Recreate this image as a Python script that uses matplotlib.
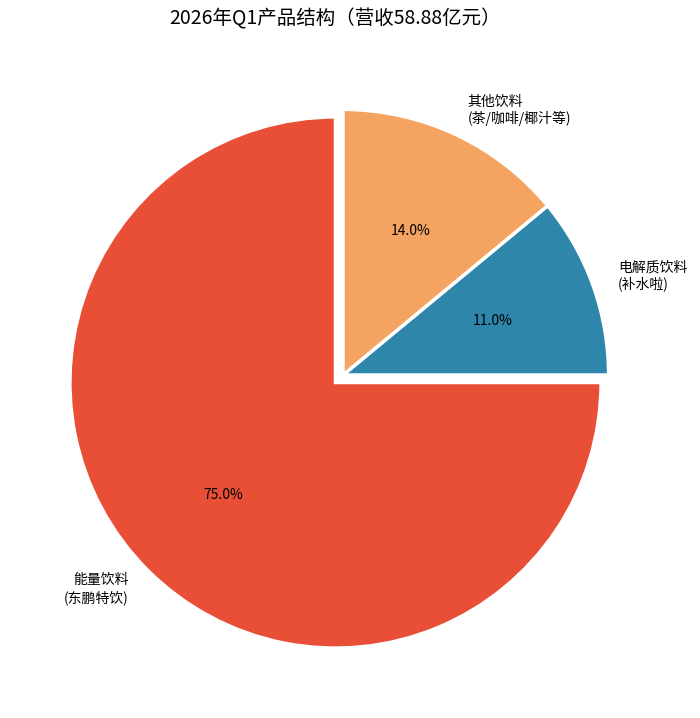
import matplotlib
matplotlib.use("Agg")
import matplotlib.pyplot as plt

plt.rcParams['font.family'] = ['Noto Sans CJK SC', 'DejaVu Sans']

# 产品结构数据
labels = ['电解质饮料\n(补水啦)', '其他饮料\n(茶/咖啡/椰汁等)', '能量饮料\n(东鹏特饮)']
shares = [11.0, 14.0, 75.0]
colors = ['#2E86AB', '#F4A460', '#E94F37']
explode = [0.0, 0.0, 0.04]
title = '2026年Q1产品结构（营收58.88亿元）'

fig = plt.figure(figsize=(7, 7.18), dpi=100)
ax = fig.add_axes([11 / 700, 11 / 718, 664 / 700, 664 / 718])

ax.pie(shares, labels=labels, colors=colors, explode=explode,
       autopct='%1.1f%%', startangle=0, counterclock=True,
       wedgeprops={'edgecolor': 'white', 'linewidth': 2.5},
       textprops={'fontsize': 10})
ax.set_xlim(-1.25, 1.25)
ax.set_ylim(-1.25, 1.25)
ax.set_aspect('equal')

fig.text(335 / 700, 1 - 19 / 718, title, ha='center', va='center', fontsize=14)

fig.savefig('out.png', dpi=100)
